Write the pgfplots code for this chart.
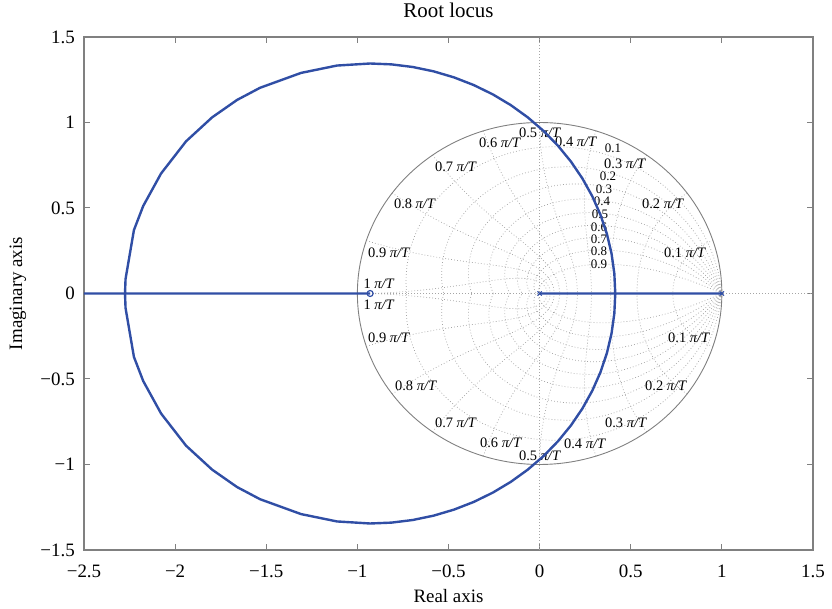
\documentclass[border=0pt]{standalone}
\usepackage{fontspec}
\setmainfont{Liberation Serif}
\usepackage{pgfplots}
\pgfplotsset{compat=1.18}
\definecolor{locus}{RGB}{48,78,165}
\definecolor{axgray}{RGB}{128,128,128}
\definecolor{gridgray}{RGB}{165,165,165}
\tikzset{
  zg/.style={gridgray, line width=0.7bp, dash pattern=on 0.8bp off 2.2bp},
  gl/.style={font=\fontsize{14.5}{16}\selectfont, inner sep=0pt, text=black},
  dl/.style={font=\fontsize{13}{14}\selectfont, inner sep=0pt, text=black},
}
\begin{document}
\begin{tikzpicture}
\begin{axis}[
  scale only axis, width=729bp, height=513bp,
  xmin=-2.5, xmax=1.5, ymin=-1.5, ymax=1.5,
  xtick={-2.5,-2,-1.5,-1,-0.5,0,0.5,1,1.5},
  ytick={-1.5,-1,-0.5,0,0.5,1,1.5},
  xticklabels={−2.5,−2,−1.5,−1,−0.5,0,0.5,1,1.5},
  yticklabels={−1.5,−1,−0.5,0,0.5,1,1.5},
  tick align=inside, major tick length=6bp,
  axis line style={axgray, line width=1.2bp},
  every tick/.style={axgray, line width=1bp},
  tick label style={font=\fontsize{19}{22}\selectfont, inner sep=0pt},
  xticklabel style={anchor=base, yshift=-27bp},
  yticklabel style={anchor=east, xshift=-9bp},
  label style={font=\fontsize{19}{22}\selectfont, inner sep=0pt},
  title style={font=\fontsize{21}{24}\selectfont, inner sep=0pt, at={(0.5,1)}, anchor=base, yshift=14bp},
  xlabel style={at={(axis description cs:0.5,0)}, anchor=base, yshift=-52bp},
  ylabel style={at={(axis description cs:-0.0850,0.5)}, anchor=base},
  title={Root locus},
  xlabel={Real axis},
  ylabel={Imaginary axis},
]
% ---- z-plane grid (zgrid): axes through origin, damping spirals, natural-frequency curves
\addplot[zg, forget plot] coordinates {(0,-1.5) (0,1.5)};
\addplot[zg, forget plot] coordinates {(-2.5,0) (1.5,0)};
\pgfplotsinvokeforeach{0.1,0.2,0.3,0.4,0.5,0.6,0.7,0.8,0.9}{
  \addplot[zg, forget plot, domain=0:pi, samples=70, variable=\t]
    ({exp(-#1*\t/sqrt(1-#1*#1))*cos(deg(\t))}, {exp(-#1*\t/sqrt(1-#1*#1))*sin(deg(\t))});
  \addplot[zg, forget plot, domain=0:pi, samples=70, variable=\t]
    ({exp(-#1*\t/sqrt(1-#1*#1))*cos(deg(\t))}, {-exp(-#1*\t/sqrt(1-#1*#1))*sin(deg(\t))});
}
\pgfplotsinvokeforeach{0.1,0.2,0.3,0.4,0.5,0.6,0.7,0.8,0.9,1.0}{
  \addplot[zg, forget plot, domain=0:1, samples=50, variable=\z]
    ({exp(-\z*#1*pi)*cos(deg(#1*pi*sqrt(max(0,1-\z*\z))))}, {exp(-\z*#1*pi)*sin(deg(#1*pi*sqrt(max(0,1-\z*\z))))});
  \addplot[zg, forget plot, domain=0:1, samples=50, variable=\z]
    ({exp(-\z*#1*pi)*cos(deg(#1*pi*sqrt(max(0,1-\z*\z))))}, {-exp(-\z*#1*pi)*sin(deg(#1*pi*sqrt(max(0,1-\z*\z))))});
}
% unit circle
\addplot[gray, line width=0.9bp, forget plot, domain=0:360, samples=181] ({cos(x)}, {sin(x)});

% ---- grid labels
\node[gl] at (axis cs:0.798,0.237) {0.1 \textit{π/T}};
\node[gl] at (axis cs:0.677,0.523) {0.2 \textit{π/T}};
\node[gl] at (axis cs:0.469,0.760) {0.3 \textit{π/T}};
\node[gl] at (axis cs:0.200,0.886) {0.4 \textit{π/T}};
\node[gl] at (axis cs:0.002,0.939) {0.5 \textit{π/T}};
\node[gl] at (axis cs:-0.217,0.880) {0.6 \textit{π/T}};
\node[gl] at (axis cs:-0.459,0.740) {0.7 \textit{π/T}};
\node[gl] at (axis cs:-0.684,0.523) {0.8 \textit{π/T}};
\node[gl] at (axis cs:-0.826,0.237) {0.9 \textit{π/T}};
\node[gl] at (axis cs:-0.881,0.056) {1 \textit{π/T}};
\node[gl] at (axis cs:-0.881,-0.067) {1 \textit{π/T}};
\node[gl] at (axis cs:-0.826,-0.260) {0.9 \textit{π/T}};
\node[gl] at (axis cs:-0.678,-0.541) {0.8 \textit{π/T}};
\node[gl] at (axis cs:-0.459,-0.757) {0.7 \textit{π/T}};
\node[gl] at (axis cs:-0.212,-0.874) {0.6 \textit{π/T}};
\node[gl] at (axis cs:0.002,-0.950) {0.5 \textit{π/T}};
\node[gl] at (axis cs:0.249,-0.880) {0.4 \textit{π/T}};
\node[gl] at (axis cs:0.474,-0.757) {0.3 \textit{π/T}};
\node[gl] at (axis cs:0.694,-0.541) {0.2 \textit{π/T}};
\node[gl] at (axis cs:0.820,-0.260) {0.1 \textit{π/T}};
\node[dl] at (axis cs:0.403,0.848) {0.1};
\node[dl] at (axis cs:0.375,0.683) {0.2};
\node[dl] at (axis cs:0.353,0.609) {0.3};
\node[dl] at (axis cs:0.342,0.537) {0.4};
\node[dl] at (axis cs:0.331,0.463) {0.5};
\node[dl] at (axis cs:0.326,0.389) {0.6};
\node[dl] at (axis cs:0.326,0.318) {0.7};
\node[dl] at (axis cs:0.326,0.246) {0.8};
\node[dl] at (axis cs:0.326,0.173) {0.9};

% ---- root locus branches
\addplot[locus, line width=2.4bp, line join=round] coordinates {
 (0,0) (0.415,0) (0.4099,0.1172) (0.3946,0.2336) (0.3692,0.3481) (0.3339,0.4600)
 (0.2890,0.5684) (0.2348,0.6725) (0.1718,0.7715) (0.1003,0.8646) (0.0211,0.9511)
 (-0.0654,1.0303) (-0.1585,1.1018) (-0.2575,1.1648) (-0.3616,1.2190) (-0.4700,1.2639)
 (-0.5819,1.2992) (-0.6964,1.3246) (-0.8128,1.3399) (-0.93,1.345) (-1.112,1.333)
 (-1.309,1.290) (-1.534,1.203) (-1.660,1.132) (-1.797,1.030) (-1.940,0.890)
 (-2.077,0.702) (-2.175,0.512) (-2.226,0.371) (-2.272,0.085) (-2.275,0) (-0.93,0)
};
\addplot[locus, line width=2.4bp, line join=round] coordinates {
 (1,0) (0.415,0) (0.4099,-0.1172) (0.3946,-0.2336) (0.3692,-0.3481) (0.3339,-0.4600)
 (0.2890,-0.5684) (0.2348,-0.6725) (0.1718,-0.7715) (0.1003,-0.8646) (0.0211,-0.9511)
 (-0.0654,-1.0303) (-0.1585,-1.1018) (-0.2575,-1.1648) (-0.3616,-1.2190) (-0.4700,-1.2639)
 (-0.5819,-1.2992) (-0.6964,-1.3246) (-0.8128,-1.3399) (-0.93,-1.345) (-1.112,-1.333)
 (-1.309,-1.290) (-1.534,-1.203) (-1.660,-1.132) (-1.797,-1.030) (-1.940,-0.890)
 (-2.077,-0.702) (-2.175,-0.512) (-2.226,-0.371) (-2.272,-0.085) (-2.275,0) (-2.5,0)
};
% poles and zero
\addplot[locus, only marks, mark=x, mark size=3bp, line width=1bp] coordinates {(0,0) (1,0)};
\addplot[locus, only marks, mark=o, mark size=3bp, line width=1.2bp, fill=white] coordinates {(-0.93,0)};
\end{axis}
\pgfresetboundingbox
\path[use as bounding box] ([xshift=-84bp,yshift=-59bp]current axis.south west) rectangle ++(832bp,609bp);
\end{tikzpicture}
\end{document}
